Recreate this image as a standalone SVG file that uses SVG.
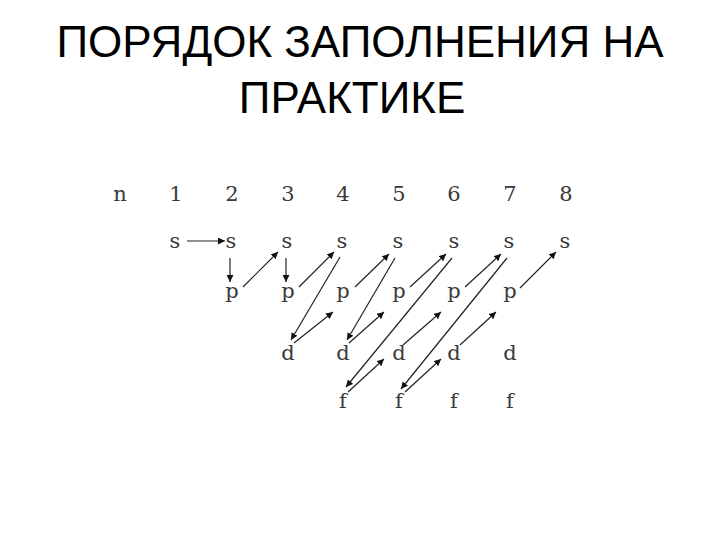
<svg xmlns="http://www.w3.org/2000/svg" width="720" height="540" viewBox="0 0 720 540">
<style>
.title{font-family:"Liberation Sans",Arial,sans-serif;font-size:44px;fill:#000;text-anchor:middle}
.lbl{font-family:"DejaVu Serif","Liberation Serif",serif;font-size:21px;fill:#3a3a3a;text-anchor:middle}
.c line{stroke:#222;stroke-width:1.2;fill:none;marker-end:url(#ah)}
</style>
<defs>
<marker id="ah" viewBox="0 0 10 10" refX="10" refY="5" markerWidth="7" markerHeight="7" markerUnits="userSpaceOnUse" orient="auto">
<path d="M0,0 L10,5 L0,10 z" fill="#111"/>
</marker>
</defs>
<rect width="720" height="540" fill="#fff"/>
<g id="title">
<text class="title" x="360" y="57">ПОРЯДОК ЗАПОЛНЕНИЯ НА</text>
<text class="title" x="352" y="113">ПРАКТИКЕ</text>
</g>
<g id="header">
<text class="lbl" x="120" y="201">n</text>
<text class="lbl" x="176" y="201">1</text>
<text class="lbl" x="232" y="201">2</text>
<text class="lbl" x="288" y="201">3</text>
<text class="lbl" x="343" y="201">4</text>
<text class="lbl" x="399" y="201">5</text>
<text class="lbl" x="454" y="201">6</text>
<text class="lbl" x="510" y="201">7</text>
<text class="lbl" x="566" y="201">8</text>
</g>
<g id="s-row">
<text id="s1" class="lbl" x="175" y="248">s</text>
<text id="s2" class="lbl" x="231" y="248">s</text>
<text id="s3" class="lbl" x="287" y="248">s</text>
<text id="s4" class="lbl" x="342" y="248">s</text>
<text id="s5" class="lbl" x="398" y="248">s</text>
<text id="s6" class="lbl" x="454" y="248">s</text>
<text id="s7" class="lbl" x="509" y="248">s</text>
<text id="s8" class="lbl" x="565" y="248">s</text>
</g>
<g id="p-row">
<text id="p2" class="lbl" x="232" y="298">p</text>
<text id="p3" class="lbl" x="288" y="298">p</text>
<text id="p4" class="lbl" x="343" y="298">p</text>
<text id="p5" class="lbl" x="399" y="298">p</text>
<text id="p6" class="lbl" x="454" y="298">p</text>
<text id="p7" class="lbl" x="510" y="298">p</text>
</g>
<g id="d-row">
<text id="d3" class="lbl" x="288" y="360">d</text>
<text id="d4" class="lbl" x="343" y="360">d</text>
<text id="d5" class="lbl" x="399" y="360">d</text>
<text id="d6" class="lbl" x="454" y="360">d</text>
<text id="d7" class="lbl" x="510" y="360">d</text>
</g>
<g id="f-row">
<text id="f4" class="lbl" x="343" y="408">f</text>
<text id="f5" class="lbl" x="399" y="408">f</text>
<text id="f6" class="lbl" x="454" y="408">f</text>
<text id="f7" class="lbl" x="510" y="408">f</text>
</g>
<g id="connectors" class="c">
<line x1="187" y1="241" x2="225" y2="241"/>
<line x1="230" y1="258" x2="230" y2="282"/>
<line x1="243" y1="287" x2="278" y2="252"/>
<line x1="286" y1="258" x2="286" y2="282"/>
<line x1="299" y1="287" x2="334" y2="252"/>
<line x1="340" y1="257" x2="291" y2="340"/>
<line x1="294" y1="343" x2="333" y2="312"/>
<line x1="355" y1="287" x2="389" y2="254"/>
<line x1="395" y1="258" x2="347" y2="340"/>
<line x1="349" y1="343" x2="384" y2="312"/>
<line x1="410" y1="287" x2="446" y2="254"/>
<line x1="452" y1="258" x2="346" y2="387"/>
<line x1="348" y1="392" x2="384" y2="359"/>
<line x1="403" y1="345" x2="441" y2="312"/>
<line x1="465" y1="287" x2="501" y2="254"/>
<line x1="507" y1="258" x2="401" y2="389"/>
<line x1="405" y1="392" x2="441" y2="359"/>
<line x1="460" y1="345" x2="496" y2="312"/>
<line x1="520" y1="288" x2="556" y2="252"/>
</g>
</svg>
